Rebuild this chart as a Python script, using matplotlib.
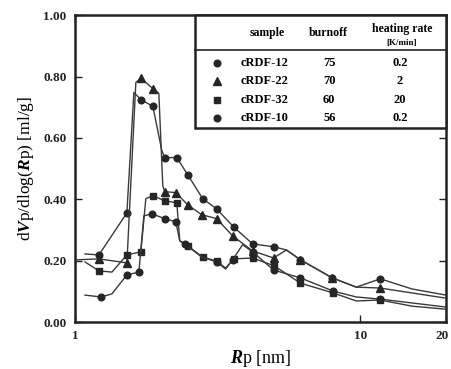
import numpy as np
import matplotlib
matplotlib.use('Agg')
import matplotlib.pyplot as plt
from matplotlib.transforms import ScaledTranslation

# pore size distributions
rp_12 = [1.084, 1.213, 1.520, 1.608, 1.701, 1.874, 2.015, 2.064, 2.274, 2.484, 2.803,
         3.137, 3.597, 4.193, 5.004, 5.511, 6.169, 7.983, 9.683, 11.75, 15.20, 20.0]
dv_12 = [0.222, 0.219, 0.356, 0.748, 0.725, 0.703, 0.559, 0.536, 0.536, 0.480, 0.402,
         0.369, 0.310, 0.255, 0.245, 0.235, 0.203, 0.144, 0.114, 0.141, 0.108, 0.088]
mk_12 = [1, 2, 4, 5, 7, 8, 9, 10, 11, 12, 13, 14, 16, 17, 19]

rp_22 = [1.016, 1.213, 1.520, 1.634, 1.701, 1.874, 1.967, 2.031, 2.064, 2.255, 2.484, 2.780,
         3.137, 3.568, 4.193, 4.964, 5.511, 6.169, 7.983, 9.683, 11.75, 15.20, 20.0]
dv_22 = [0.203, 0.206, 0.193, 0.781, 0.794, 0.761, 0.745, 0.444, 0.425, 0.422, 0.382, 0.350,
         0.337, 0.281, 0.232, 0.209, 0.235, 0.203, 0.144, 0.114, 0.111, 0.095, 0.078]
mk_22 = [1, 2, 4, 5, 8, 9, 10, 11, 12, 13, 14, 15, 17, 18, 20]

rp_32 = [1.084, 1.213, 1.347, 1.520, 1.701, 1.771, 1.874, 2.064, 2.274, 2.329, 2.484, 2.803,
         3.137, 3.373, 3.597, 4.193, 5.004, 6.169, 8.047, 9.683, 11.75, 15.20, 20.0]
dv_32 = [0.196, 0.167, 0.163, 0.219, 0.229, 0.402, 0.412, 0.395, 0.389, 0.265, 0.248, 0.212,
         0.199, 0.176, 0.206, 0.209, 0.183, 0.127, 0.095, 0.069, 0.072, 0.052, 0.042]
mk_32 = [1, 3, 4, 6, 7, 8, 10, 11, 12, 14, 15, 16, 17, 18, 20]

rp_10 = [1.084, 1.233, 1.347, 1.520, 1.674, 1.743, 1.858, 2.064, 2.255, 2.329, 2.425, 2.780,
         3.137, 3.373, 3.568, 3.868, 4.193, 4.964, 6.169, 8.047, 9.683, 11.75, 20.0]
dv_10 = [0.088, 0.082, 0.092, 0.154, 0.163, 0.346, 0.353, 0.337, 0.327, 0.265, 0.255, 0.212,
         0.196, 0.173, 0.203, 0.252, 0.229, 0.170, 0.144, 0.101, 0.082, 0.075, 0.049]
mk_10 = [1, 3, 4, 6, 7, 8, 10, 12, 14, 16, 17, 18, 19, 21]

samples = ['cRDF-12', 'cRDF-22', 'cRDF-32', 'cRDF-10']
burnoff = ['75', '70', '60', '56']
heating = ['0.2', '2', '20', '0.2']
markers = ['o', '^', 's', 'o']
msizes = [4.8, 5.4, 5.0, 4.8]

plt.rcParams['font.family'] = ['Liberation Serif', 'DejaVu Serif']
plt.rcParams['font.weight'] = 'bold'
plt.rcParams['mathtext.fontset'] = 'custom'
plt.rcParams['mathtext.rm'] = 'Liberation Serif:bold'
plt.rcParams['mathtext.it'] = 'Liberation Serif:italic:bold'

fig = plt.figure(figsize=(4.52, 3.69), dpi=100)
ax = fig.add_axes([0.166, 0.127, 0.821, 0.832])

lc = '#3a3a3a'
mc = '#262626'
series = [(rp_12, dv_12, mk_12), (rp_22, dv_22, mk_22), (rp_32, dv_32, mk_32), (rp_10, dv_10, mk_10)]
for (x, y, mk), m, sz in zip(series, markers, msizes):
    ax.plot(x, y, color=lc, lw=1.0, marker=m, markevery=mk, ms=sz,
            mfc=mc, mec=mc, zorder=3)

ax.set_xscale('log')
ax.set_xlim(1, 20)
ax.set_ylim(0, 1.0)
ax.set_xticks([1, 10, 20])
ax.set_xticklabels(['1', '10', '20'])
ax.xaxis.set_minor_locator(matplotlib.ticker.NullLocator())
ax.set_yticks([0, 0.2, 0.4, 0.6, 0.8, 1.0])
ax.set_yticklabels(['0.00', '0.20', '0.40', '0.60', '0.80', '1.00'])
ax.tick_params(direction='in', length=5, width=1, top=True, right=True,
               labelsize=9.5, pad=6, colors='#222222')
for s in ax.spines.values():
    s.set_linewidth(1.8)
    s.set_color('#222222')
# keep the "20" inside the figure
lab20 = ax.get_xticklabels()[2]
lab20.set_transform(lab20.get_transform() + ScaledTranslation(-4 / 100, 0, fig.dpi_scale_trans))

ax.set_xlabel(r'$\mathit{R}$p [nm]', fontsize=13, labelpad=4)
ax.set_ylabel(r'd$\mathit{V}$p/dlog($\mathit{R}$p) [ml/g]', fontsize=12.5, labelpad=5)

# legend table
tr = ax.transAxes
x0, y0 = 0.323, 0.632
ax.add_patch(plt.Rectangle((x0, y0), 1 - x0, 1 - y0, transform=tr, fill=True,
                           fc='white', ec='#222222', lw=1.8, zorder=5, clip_on=False))
ax.plot([x0, 1], [0.886, 0.886], transform=tr, color='#222222', lw=1.2, zorder=6)
fs = 8.5
ax.text(0.518, 0.941, 'sample', transform=tr, ha='center', va='center', fontsize=fs, zorder=7)
ax.text(0.682, 0.941, 'burnoff', transform=tr, ha='center', va='center', fontsize=fs, zorder=7)
ax.text(0.881, 0.954, 'heating rate', transform=tr, ha='center', va='center', fontsize=fs, zorder=7)
ax.text(0.881, 0.909, '[K/min]', transform=tr, ha='center', va='center', fontsize=6.5, zorder=7)
rows_y = [0.843, 0.786, 0.725, 0.664]
for i in range(4):
    ry = rows_y[i]
    ax.plot([0.383], [ry], transform=tr, marker=markers[i], ms=msizes[i], color=mc,
            zorder=7, clip_on=False)
    ax.text(0.512, ry, samples[i], transform=tr, ha='center', va='center', fontsize=fs + 0.5, zorder=7)
    ax.text(0.685, ry, burnoff[i], transform=tr, ha='center', va='center', fontsize=fs + 0.5, zorder=7)
    ax.text(0.876, ry, heating[i], transform=tr, ha='center', va='center', fontsize=fs + 0.5, zorder=7)

fig.savefig('out.png', dpi=100)
